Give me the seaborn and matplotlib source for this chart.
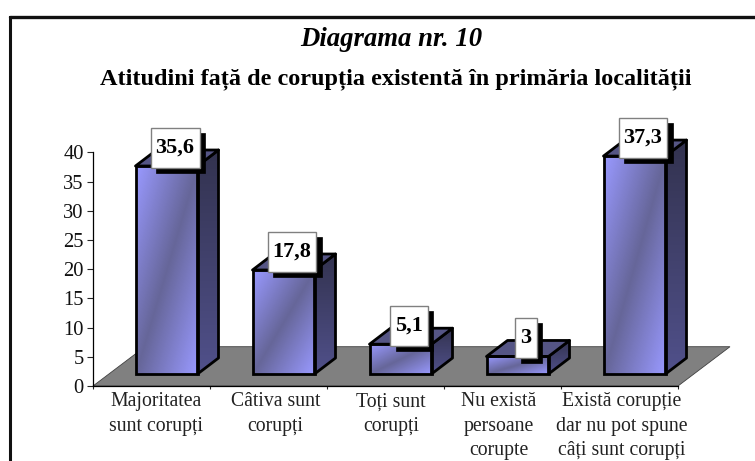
import numpy as np
import pandas as pd
import seaborn as sns
import matplotlib
matplotlib.use("Agg")
import matplotlib.pyplot as plt
from matplotlib.colors import LinearSegmentedColormap
from matplotlib.lines import Line2D
from matplotlib.patches import Polygon, Rectangle
from matplotlib.transforms import ScaledTranslation

categories = ["Majoritatea\nsunt corupți", "Câtiva sunt\ncorupți", "Toți sunt\ncorupți",
              "Nu există\npersoane\ncorupte", "Există corupție\ndar nu pot spune\ncâți sunt corupți"]
values = [35.6, 17.8, 5.1, 3, 37.3]
y_ticks = [0, 5, 10, 15, 20, 25, 30, 35, 40]
title_main = "Diagrama nr. 10"
title_sub = "Atitudini față de corupția existentă în primăria localității"

W, H = 755, 461
sns.set_style("white")
plt.rcParams["font.family"] = ["Liberation Serif", "DejaVu Serif"]

fig = plt.figure(figsize=(W / 100, H / 100), dpi=100, facecolor="white")
AX_L, AX_R, AX_B, AX_T = 93, 678, 386, 152.3
ax = fig.add_axes([AX_L / W, 1 - AX_B / H, (AX_R - AX_L) / W, (AX_B - AX_T) / H])

df = pd.DataFrame({"cat": categories, "val": values})
sns.barplot(data=df, x="cat", y="val", ax=ax, width=62 / 117, color="#9999FF",
            saturation=1, edgecolor="black", linewidth=2, zorder=5)
ax.set_xlim(-0.5, 4.5)
ax.set_ylim(0, 40)
ax.set_autoscale_on(False)
ax.set_xlabel("")
ax.set_ylabel("")

px = 1 / 117
py = 40 / (AX_B - AX_T)
SHIFT_X, SHIFT_Y = 15 * px, 12 * py
DEPTH_X, DEPTH_Y = 21 * px, 16 * py

# floor
floor = Polygon([(-0.5, 0), (4.5, 0), (4.5 + 52 * px, 39.3 * py), (-0.5 + 52 * px, 39.3 * py)],
                closed=True, facecolor="#808080", edgecolor="#404040", linewidth=0.6,
                zorder=1, clip_on=False)

front_cm = LinearSegmentedColormap.from_list("front", ["#9999FF", "#666699", "#9999FF"])
side_cm = LinearSegmentedColormap.from_list("side", ["#333350", "#50508A"])

labels = []
for i, bar in enumerate(list(ax.patches)):
    x0 = bar.get_x() + SHIFT_X
    w = bar.get_width()
    h = bar.get_height()
    y0 = SHIFT_Y
    bar.set_x(x0)
    bar.set_y(y0)
    bar.set_facecolor("none")
    bar.set_clip_on(False)
    bar.set_zorder(6)
    # front gradient, diagonal
    u, v = np.meshgrid(np.linspace(0, 1, 120), np.linspace(0, 1, 120))
    g = (u + v) / 2
    im = ax.imshow(g, extent=(x0, x0 + w, y0, y0 + h), origin="upper", aspect="auto",
                   cmap=front_cm, vmin=0, vmax=1, zorder=4)
    im.set_clip_path(Rectangle((x0, y0), w, h, transform=ax.transData))
    im.set_clip_box(fig.bbox)
    # side face
    side = Polygon([(x0 + w, y0), (x0 + w + DEPTH_X, y0 + DEPTH_Y),
                    (x0 + w + DEPTH_X, y0 + h + DEPTH_Y), (x0 + w, y0 + h)],
                   closed=True, facecolor="none", edgecolor="black", linewidth=2,
                   zorder=4.5, clip_on=False, joinstyle="round")
    ax.add_patch(side)
    img = ax.imshow(np.linspace(0, 1, 60).reshape(-1, 1),
                    extent=(x0 + w, x0 + w + DEPTH_X, y0, y0 + h + DEPTH_Y), origin="upper",
                    aspect="auto", cmap=side_cm, vmin=0, vmax=1, zorder=3)
    img.set_clip_path(side)
    img.set_clip_box(fig.bbox)
    # top face
    top = Polygon([(x0, y0 + h), (x0 + w, y0 + h), (x0 + w + DEPTH_X, y0 + h + DEPTH_Y),
                   (x0 + DEPTH_X, y0 + h + DEPTH_Y)], closed=True, facecolor="#555585",
                  edgecolor="black", linewidth=2, zorder=4.5, clip_on=False, joinstyle="round")
    ax.add_patch(top)
    labels.append((x0 + w / 2 + 8.5 * px, y0 + h + 18.5 * py, values[i]))

ax.add_patch(floor)

fig.canvas.draw()
renderer = fig.canvas.get_renderer()
for cx, cy, val in labels:
    t = ax.text(cx, cy, f"{val}".replace(".", ","), ha="center", va="center",
                fontsize=16, fontweight="bold", color="black", zorder=10, clip_on=False)
    tw = t.get_window_extent(renderer).width * px + 10 * px
    bh = 40 * py
    ax.add_patch(Rectangle((cx - tw / 2 + 5.5 * px, cy - bh / 2 - 5.5 * py), tw, bh,
                           facecolor="black", edgecolor="black", linewidth=0.5,
                           zorder=8, clip_on=False))
    ax.add_patch(Rectangle((cx - tw / 2, cy - bh / 2), tw, bh, facecolor="white",
                           edgecolor="#808080", linewidth=1, zorder=9, clip_on=False))

# axes
sns.despine(ax=ax)
for s in ("left", "bottom"):
    ax.spines[s].set_linewidth(0.9)
    ax.spines[s].set_color("black")
    ax.spines[s].set_zorder(7)
ax.set_yticks(y_ticks)
ax.set_yticklabels([str(v) for v in y_ticks], fontsize=14.8, color="#111111")
ax.tick_params(axis="y", which="major", left=True, length=4.2, width=0.8, pad=2.5)
ax.set_xticks(np.arange(5))
ax.set_xticklabels(categories, fontsize=14.2, color="#222222", linespacing=1.38)
ax.set_xticks(np.arange(6) - 0.5, minor=True)
ax.tick_params(axis="x", which="major", bottom=False, length=0, pad=4.5)
ax.tick_params(axis="x", which="minor", bottom=True, length=2.5, width=0.8)
for lab, nudge in zip(ax.get_xticklabels(), (4.5, 7, 5.5, -3.5, 2.5)):
    lab.set_transform(lab.get_transform() + ScaledTranslation(nudge / 100, 0, fig.dpi_scale_trans))

# titles and frame
fig.text(391 / W, 1 - 39 / H, title_main, ha="center", va="center", fontsize=19.3,
         fontweight="bold", fontstyle="italic", color="black")
fig.text(396 / W, 1 - 79 / H, title_sub, ha="center", va="center", fontsize=17.5,
         fontweight="bold", color="black")
fig.add_artist(Line2D([9.5 / W, 9.5 / W], [0, 1 - 17 / H], color="#111111", linewidth=2.2,
                      solid_capstyle="projecting"))
fig.add_artist(Line2D([9.5 / W, 1], [1 - 17 / H, 1 - 17 / H], color="#111111", linewidth=2.4))

fig.savefig("out.png", dpi=100, facecolor="white")
